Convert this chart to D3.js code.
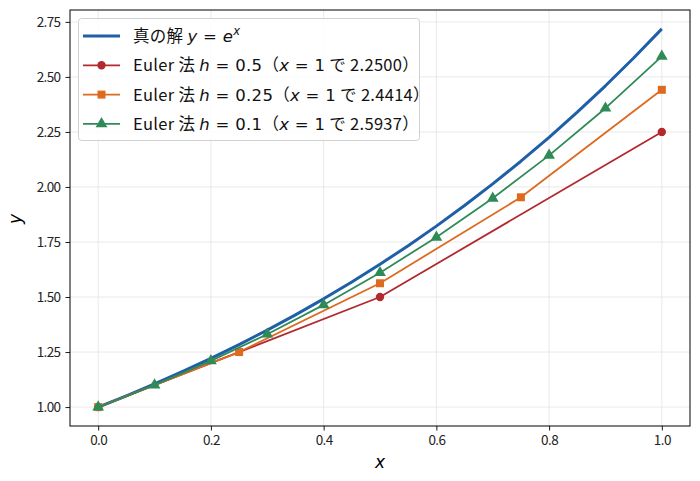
<!DOCTYPE html>
<html>
<head>
<meta charset="utf-8">
<script src="https://cdn.jsdelivr.net/npm/d3@7"></script>
<style>
  body { margin: 0; background: #fff; }
  svg text { font-family: "Noto Sans CJK JP", "DejaVu Sans", sans-serif; }
  .math { font-family: "DejaVu Sans", sans-serif; }
</style>
</head>
<body>
<div id="chart"></div>
<script>
// true solution y = e^x
const exactX = [0, 0.05, 0.1, 0.15, 0.2, 0.25, 0.3, 0.35, 0.4, 0.45, 0.5, 0.55, 0.6, 0.65, 0.7, 0.75, 0.8, 0.85, 0.9, 0.95, 1.0];
const exactY = [1.0, 1.0513, 1.1052, 1.1618, 1.2214, 1.2840, 1.3499, 1.4191, 1.4918, 1.5683, 1.6487, 1.7333, 1.8221, 1.9155, 2.0138, 2.1170, 2.2255, 2.3396, 2.4596, 2.5857, 2.7183];

// Euler steps
const h05X = [0, 0.5, 1.0];
const h05Y = [1.0, 1.5, 2.25];
const h025X = [0, 0.25, 0.5, 0.75, 1.0];
const h025Y = [1.0, 1.25, 1.5625, 1.9531, 2.4414];
const h01X = [0, 0.1, 0.2, 0.3, 0.4, 0.5, 0.6, 0.7, 0.8, 0.9, 1.0];
const h01Y = [1.0, 1.1, 1.21, 1.331, 1.4641, 1.6105, 1.7716, 1.9487, 2.1436, 2.3579, 2.5937];

const xTicks = [0.0, 0.2, 0.4, 0.6, 0.8, 1.0];
const yTicks = [1.00, 1.25, 1.50, 1.75, 2.00, 2.25, 2.50, 2.75];

const W = 700, H = 481;
const margin = {top: 10, right: 10, bottom: 55, left: 70};
const width = W - margin.left - margin.right;
const height = H - margin.top - margin.bottom;

const svg = d3.select('#chart').append('svg')
  .attr('width', W).attr('height', H);
const g = svg.append('g').attr('transform', `translate(${margin.left},${margin.top})`);

const x = d3.scaleLinear().domain([-0.05, 1.05]).range([0, width]);
const y = d3.scaleLinear().domain([0.914, 2.804]).range([height, 0]);

// grid
g.append('g').selectAll('line').data(xTicks).join('line')
  .attr('x1', d => x(d)).attr('x2', d => x(d)).attr('y1', 0).attr('y2', height)
  .attr('stroke', '#e3e3e3').attr('stroke-width', 0.8);
g.append('g').selectAll('line').data(yTicks).join('line')
  .attr('y1', d => y(d)).attr('y2', d => y(d)).attr('x1', 0).attr('x2', width)
  .attr('stroke', '#e3e3e3').attr('stroke-width', 0.8);

// axes
const xAxis = g.append('g').attr('transform', `translate(0,${height})`)
  .call(d3.axisBottom(x).tickValues(xTicks).tickFormat(d3.format('.1f')).tickSizeOuter(0).tickSize(4.5).tickPadding(5));
const yAxis = g.append('g')
  .call(d3.axisLeft(y).tickValues(yTicks).tickFormat(d3.format('.2f')).tickSizeOuter(0).tickSize(4.5).tickPadding(5));
[xAxis, yAxis].forEach(a => {
  a.select('.domain').remove();
  a.selectAll('line').attr('stroke', '#000').attr('stroke-width', 0.9);
  a.selectAll('text').attr('font-size', 13.5).attr('fill', '#222')
    .attr('letter-spacing', -0.6)
    .style('font-family', '"Noto Sans CJK JP", sans-serif');
});

// frame
g.append('rect').attr('width', width).attr('height', height)
  .attr('fill', 'none').attr('stroke', '#000').attr('stroke-width', 1);

const series = [
  {xs: exactX, ys: exactY, color: '#1f5fa8', lw: 3, marker: null},
  {xs: h05X, ys: h05Y, color: '#b22a2e', lw: 1.8, marker: 'circle'},
  {xs: h025X, ys: h025Y, color: '#dd6a1f', lw: 1.8, marker: 'square'},
  {xs: h01X, ys: h01Y, color: '#2e8b57', lw: 1.8, marker: 'triangle'}
];

const symbols = {
  circle: d3.symbol().type(d3.symbolCircle).size(55),
  square: d3.symbol().type(d3.symbolSquare).size(64),
  triangle: d3.symbol().type(d3.symbolTriangle).size(60)
};

const line = d3.line().x(d => x(d[0])).y(d => y(d[1]));
const plot = g.append('g');
series.forEach(s => {
  const pts = s.xs.map((v, i) => [v, s.ys[i]]);
  plot.append('path').datum(pts).attr('d', line)
    .attr('fill', 'none').attr('stroke', s.color).attr('stroke-width', s.lw)
    .attr('stroke-linejoin', 'round');
  if (s.marker) {
    plot.append('g').selectAll('path').data(pts).join('path')
      .attr('d', symbols[s.marker])
      .attr('transform', d => `translate(${x(d[0])},${y(d[1])})`)
      .attr('fill', s.color);
  }
});

// axis labels
svg.append('text').attr('class', 'math').attr('x', 380).attr('y', 468)
  .attr('text-anchor', 'middle').attr('font-size', 17).attr('font-style', 'italic').text('x');
svg.append('text').attr('class', 'math')
  .attr('transform', 'translate(21,219) rotate(-90)')
  .attr('text-anchor', 'middle').attr('font-size', 17).attr('font-style', 'italic').text('y');

// legend
const lg = svg.append('g');
lg.append('rect').attr('x', 78.5).attr('y', 18.5).attr('width', 341).attr('height', 122)
  .attr('rx', 3).attr('fill', 'rgba(255,255,255,0.85)').attr('stroke', '#d0d0d0');

const legendRows = [
  [['真の解 ', 'n'], ['y', 'i'], [' = ', 'm'], ['e', 'i'], ['x', 'sup']],
  [['Euler 法 ', 'n'], ['h', 'i'], [' = 0.5', 'm'], ['（', 'n'], ['x', 'i'], [' = 1', 'm'], [' で 2.2500）', 'n']],
  [['Euler 法 ', 'n'], ['h', 'i'], [' = 0.25', 'm'], ['（', 'n'], ['x', 'i'], [' = 1', 'm'], [' で 2.4414）', 'n']],
  [['Euler 法 ', 'n'], ['h', 'i'], [' = 0.1', 'm'], ['（', 'n'], ['x', 'i'], [' = 1', 'm'], [' で 2.5937）', 'n']]
];

series.forEach((s, i) => {
  const cy = 36 + i * 29.3;
  lg.append('line').attr('x1', 83).attr('x2', 120).attr('y1', cy).attr('y2', cy)
    .attr('stroke', s.color).attr('stroke-width', s.lw);
  if (s.marker) {
    lg.append('path').attr('d', symbols[s.marker])
      .attr('transform', `translate(101.5,${cy})`).attr('fill', s.color);
  }
  const t = lg.append('text').attr('x', 133).attr('y', cy + 6).attr('font-size', 16.5)
    .attr('letter-spacing', 0.3).attr('fill', '#111');
  legendRows[i].forEach(([str, kind]) => {
    const sp = t.append('tspan').text(str).attr('xml:space', 'preserve').style('white-space', 'pre');
    if (kind === 'i') sp.attr('font-family', 'DejaVu Sans').attr('font-style', 'italic');
    if (kind === 'm') sp.attr('font-family', 'DejaVu Sans');
    if (kind === 'sup') sp.attr('font-family', 'DejaVu Sans').attr('font-style', 'italic')
      .attr('font-size', 11.5).attr('dy', -7);
  });
});
</script>
</body>
</html>
